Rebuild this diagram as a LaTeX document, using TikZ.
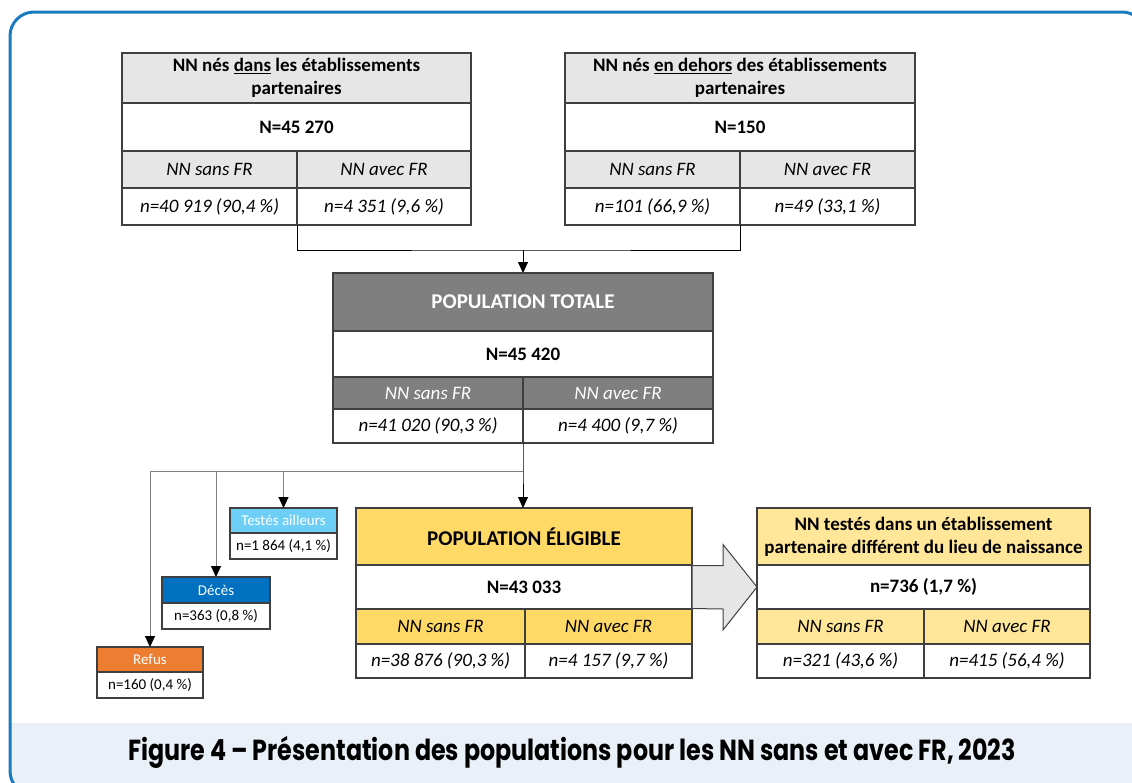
\documentclass[tikz,border=0pt]{standalone}
\usepackage{fontspec}
\setmainfont{Carlito}
\newfontfamily\capfont{Poppins}[FakeStretch=0.82]
\usetikzlibrary{arrows.meta,positioning,calc}

\definecolor{framecol}{HTML}{1B7BBE}
\definecolor{bandcol}{HTML}{EAF0F8}
\definecolor{cellline}{HTML}{3F3F3F}
\definecolor{lgray}{HTML}{E7E6E6}
\definecolor{dgray}{HTML}{7F7F7F}
\definecolor{wiregray}{HTML}{808080}
\definecolor{eliyellow}{HTML}{FFD966}
\definecolor{diffyellow}{HTML}{FFE699}
\definecolor{testescol}{HTML}{6ECFF6}
\definecolor{decescol}{HTML}{0070C0}
\definecolor{refuscol}{HTML}{ED7D31}

\begin{document}
\begin{tikzpicture}[x=1pt, y=-1pt,
    cell/.style={draw=cellline, line width=1.1pt, inner sep=0pt, outer sep=0pt, anchor=north west, align=center},
    hd/.style={cell, font=\fontsize{19}{23}\selectfont\bfseries},
    popd/.style={cell, font=\fontsize{21}{25}\selectfont\bfseries},
    it/.style={cell, font=\fontsize{19}{23}\selectfont\itshape},
    sm/.style={cell, font=\fontsize{15}{18}\selectfont},
    wire/.style={line width=1pt},
    link/.style={line width=1pt, -{Triangle[width=10pt,length=11pt]}},
    glink/.style={line width=1pt, wiregray, -{Triangle[width=10pt,length=11pt,black]}},
    bigarrow/.style={draw=cellline, line width=1pt, fill=lgray}]
    \useasboundingbox (0,0) rectangle (1132,782);

    % Frame and caption band
    \begin{scope}
        \clip[rounded corners=24pt] (10,12) rectangle (1146,795);
        \fill[bandcol] (0,723) rectangle (1146,795);
    \end{scope}
    \draw[framecol, line width=3pt, rounded corners=24pt] (10,12) rectangle (1146,795);

    % NN born in partner hospitals
    \node[hd, fill=lgray, minimum width=349pt, minimum height=50pt] (dansH) at (122,53) {NN nés \underline{dans} les établissements\\partenaires};
    \node[hd, fill=white, minimum width=349pt, minimum height=48pt] (dansN) at (122,103) {N=45 270};
    \node[it, fill=lgray, minimum width=175pt, minimum height=37pt] (dansSa) at (122,151) {NN sans FR};
    \node[it, fill=lgray, minimum width=174pt, minimum height=37pt] (dansAv) at (297,151) {NN avec FR};
    \node[it, fill=white, minimum width=175pt, minimum height=37pt] (dansSaV) at (122,188) {n=40 919 (90,4 \%)};
    \node[it, fill=white, minimum width=174pt, minimum height=37pt] (dansAvV) at (297,188) {n=4 351 (9,6 \%)};

    % NN born outside partner hospitals
    \node[hd, fill=lgray, minimum width=350pt, minimum height=50pt] (dehorsH) at (565,53) {NN nés \underline{en dehors} des établissements\\partenaires};
    \node[hd, fill=white, minimum width=350pt, minimum height=48pt] (dehorsN) at (565,103) {N=150};
    \node[it, fill=lgray, minimum width=175pt, minimum height=37pt] (dehorsSa) at (565,151) {NN sans FR};
    \node[it, fill=lgray, minimum width=175pt, minimum height=37pt] (dehorsAv) at (740,151) {NN avec FR};
    \node[it, fill=white, minimum width=175pt, minimum height=37pt] (dehorsSaV) at (565,188) {n=101 (66,9 \%)};
    \node[it, fill=white, minimum width=175pt, minimum height=37pt] (dehorsAvV) at (740,188) {n=49 (33,1 \%)};

    % Total population
    \node[popd, fill=dgray, text=white, minimum width=380pt, minimum height=58pt] (totH) at (333,273) {POPULATION TOTALE};
    \node[hd, fill=white, minimum width=380pt, minimum height=46pt] (totN) at (333,331) {N=45 420};
    \node[it, fill=dgray, text=white, minimum width=190pt, minimum height=32pt] (totSa) at (333,377) {NN sans FR};
    \node[it, fill=dgray, text=white, minimum width=190pt, minimum height=32pt] (totAv) at (523,377) {NN avec FR};
    \node[it, fill=white, minimum width=190pt, minimum height=34pt] (totSaV) at (333,409) {n=41 020 (90,3 \%)};
    \node[it, fill=white, minimum width=190pt, minimum height=34pt] (totAvV) at (523,409) {n=4 400 (9,7 \%)};

    % Eligible population
    \node[popd, fill=eliyellow, minimum width=336pt, minimum height=57pt] (eliH) at (356,508) {POPULATION ÉLIGIBLE};
    \node[hd, fill=white, minimum width=336pt, minimum height=44pt] (eliN) at (356,565) {N=43 033};
    \node[it, fill=eliyellow, minimum width=169pt, minimum height=35pt] (eliSa) at (356,609) {NN sans FR};
    \node[it, fill=eliyellow, minimum width=167pt, minimum height=35pt] (eliAv) at (525,609) {NN avec FR};
    \node[it, fill=white, minimum width=169pt, minimum height=34pt] (eliSaV) at (356,644) {n=38 876 (90,3 \%)};
    \node[it, fill=white, minimum width=167pt, minimum height=34pt] (eliAvV) at (525,644) {n=4 157 (9,7 \%)};

    % Tested in another partner hospital
    \node[hd, fill=diffyellow, minimum width=333pt, minimum height=57pt] (diffH) at (757,508) {NN testés dans un établissement\\partenaire différent du lieu de naissance};
    \node[hd, fill=white, minimum width=333pt, minimum height=44pt] (diffN) at (757,565) {n=736 (1,7 \%)};
    \node[it, fill=diffyellow, minimum width=167pt, minimum height=35pt] (diffSa) at (757,609) {NN sans FR};
    \node[it, fill=diffyellow, minimum width=166pt, minimum height=35pt] (diffAv) at (924,609) {NN avec FR};
    \node[it, fill=white, minimum width=167pt, minimum height=34pt] (diffSaV) at (757,644) {n=321 (43,6 \%)};
    \node[it, fill=white, minimum width=166pt, minimum height=34pt] (diffAvV) at (924,644) {n=415 (56,4 \%)};

    % Exclusions
    \node[sm, fill=testescol, text=white, minimum width=107pt, minimum height=25pt] (testesH) at (230,508) {Testés ailleurs};
    \node[sm, fill=white, minimum width=107pt, minimum height=26pt] (testesV) at (230,533) {n=1 864 (4,1 \%)};
    \node[sm, fill=decescol, text=white, minimum width=108pt, minimum height=26pt] (decesH) at (162,577) {Décès};
    \node[sm, fill=white, minimum width=108pt, minimum height=26pt] (decesV) at (162,603) {n=363 (0,8 \%)};
    \node[sm, fill=refuscol, text=white, minimum width=106pt, minimum height=25pt] (refusH) at (97,647) {Refus};
    \node[sm, fill=white, minimum width=106pt, minimum height=26pt] (refusV) at (97,672) {n=160 (0,4 \%)};

    % Connectors
    \coordinate (topjoin) at (523,250);
    \coordinate (lowjoin) at (523,471);
    \draw[wire] (dansSaV.south east) |- (topjoin) -| (dehorsSaV.south east);
    \draw[link] (topjoin) -- (totH.north);
    \draw[glink] (lowjoin) -| (refusH.north);
    \draw[glink] (lowjoin) -| (decesH.north);
    \draw[glink] (lowjoin) -| (testesH.north);
    \draw[link] (totSaV.south east) -- (lowjoin) -- (lowjoin |- eliH.north);

    % Big arrow
    \draw[bigarrow] ([yshift=21.5pt]eliN.east) -- ++(31,0) -- ++(0,-21) -- (diffN.west) -- ++(-34,43) -- ++(0,-21) -- ([yshift=-21.5pt]eliN.east) -- cycle;

    % Caption
    \node[font=\capfont\bfseries\fontsize{29}{34}\selectfont] (caption) at (572,752) {Figure 4 – Présentation des populations pour les NN sans et avec FR, 2023};
\end{tikzpicture}
\end{document}
